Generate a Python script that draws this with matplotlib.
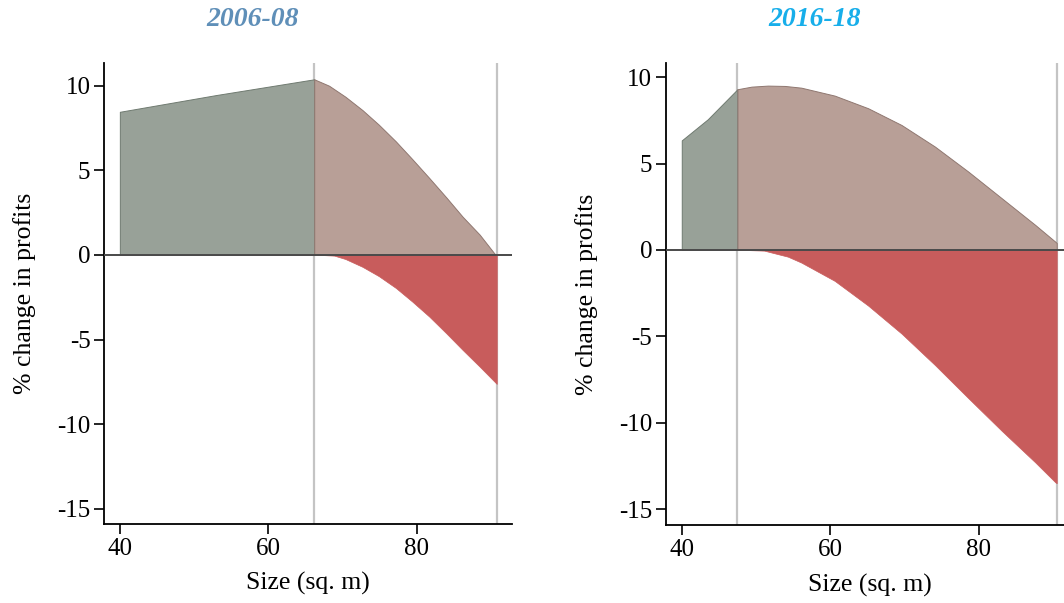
import matplotlib.pyplot as plt

# 2006-08 panel
x_green_a = [40.0, 53.0, 66.2]
y_green_a = [8.46, 9.45, 10.38]
x_brown_a = [66.2, 68.2, 70.4, 72.7, 74.9, 77.2, 79.4, 81.7, 84.0, 86.2, 88.5, 90.5, 90.8]
y_brown_a = [10.38, 10.0, 9.35, 8.56, 7.70, 6.71, 5.67, 4.55, 3.40, 2.26, 1.20, 0.08, 0.0]
x_red_a = [66.2, 67.5, 68.9, 70.4, 72.7, 74.9, 77.2, 79.4, 81.7, 84.0, 86.2, 88.5, 90.8]
y_red_a = [0.0, -0.01, -0.04, -0.24, -0.70, -1.25, -1.95, -2.75, -3.64, -4.63, -5.61, -6.60, -7.62]
vlines_a = [66.2, 90.8]

# 2016-18 panel
x_green_b = [40.0, 43.5, 47.5]
y_green_b = [6.34, 7.56, 9.3]
x_brown_b = [47.5, 49.4, 51.6, 53.9, 56.1, 60.6, 65.1, 69.6, 74.1, 78.6, 83.1, 87.6, 90.3, 90.5]
y_brown_b = [9.3, 9.45, 9.51, 9.49, 9.39, 8.93, 8.20, 7.23, 5.98, 4.53, 2.99, 1.45, 0.48, 0.40]
x_red_b = [47.5, 49.0, 51.1, 54.3, 56.1, 60.6, 65.1, 69.6, 74.1, 78.6, 83.1, 87.6, 90.3, 90.5]
y_red_b = [0.0, -0.01, -0.04, -0.39, -0.73, -1.79, -3.22, -4.84, -6.66, -8.58, -10.47, -12.29, -13.44, -13.5]
vlines_b = [47.5, 90.5]

titles = ["2006-08", "2016-18"]
title_colors = ["#5f8fb8", "#17aeea"]
yticks = [-15, -10, -5, 0, 5, 10]
xticks = [40, 60, 80]

plt.rcParams['font.family'] = ['Liberation Serif', 'DejaVu Serif']
plt.rcParams['axes.unicode_minus'] = False

GREEN = "#98a198"
BROWN = "#b89f97"
RED = "#c85c5c"


def draw_panel(ax, xg, yg, xb, yb, xr, yr, vlines, ylim):
    for v in vlines:
        ax.axvline(v, color="#c4c4c4", lw=1.6, zorder=1)
    ax.fill_between(xg, 0, yg, color=GREEN, edgecolor="#6f7a70", lw=0.7, zorder=2)
    ax.fill_between(xb, 0, yb, color=BROWN, edgecolor="#8f7770", lw=0.7, zorder=2)
    ax.fill_between(xr, 0, yr, color=RED, edgecolor=RED, lw=0.5, zorder=2)
    ax.axhline(0, color="#4a4a4a", lw=1.4, zorder=3)

    ax.set_xlim(37.9, 92.9)
    ax.set_ylim(*ylim)
    ax.set_xticks(xticks)
    ax.set_yticks(yticks)
    ax.spines['top'].set_visible(False)
    ax.spines['right'].set_visible(False)
    for s in ['left', 'bottom']:
        ax.spines[s].set_linewidth(1.3)
    ax.tick_params(direction='out', length=7, width=1.2, labelsize=18, pad=3)
    ax.set_xlabel("Size (sq. m)", fontsize=18.5, labelpad=9)
    ax.set_ylabel("% change in profits", fontsize=18.5)
    ax.yaxis.set_label_coords(-0.168, 0.5)


fig = plt.figure(figsize=(10.64, 6.03), dpi=100)
ax1 = fig.add_axes([0.098, 0.131, 0.3835, 0.765])
ax2 = fig.add_axes([0.6261, 0.129, 0.3838, 0.766])

draw_panel(ax1, x_green_a, y_green_a, x_brown_a, y_brown_a, x_red_a, y_red_a,
           vlines_a, (-15.9, 11.36))
draw_panel(ax2, x_green_b, y_green_b, x_brown_b, y_brown_b, x_red_b, y_red_b,
           vlines_b, (-15.93, 10.8))

fig.text(253 / 1064, 1 - 20 / 603, titles[0], color=title_colors[0], fontsize=20,
         fontweight='bold', fontstyle='italic', ha='center', va='center')
fig.text(815 / 1064, 1 - 20 / 603, titles[1], color=title_colors[1], fontsize=20,
         fontweight='bold', fontstyle='italic', ha='center', va='center')

fig.savefig("out.png", dpi=100)
